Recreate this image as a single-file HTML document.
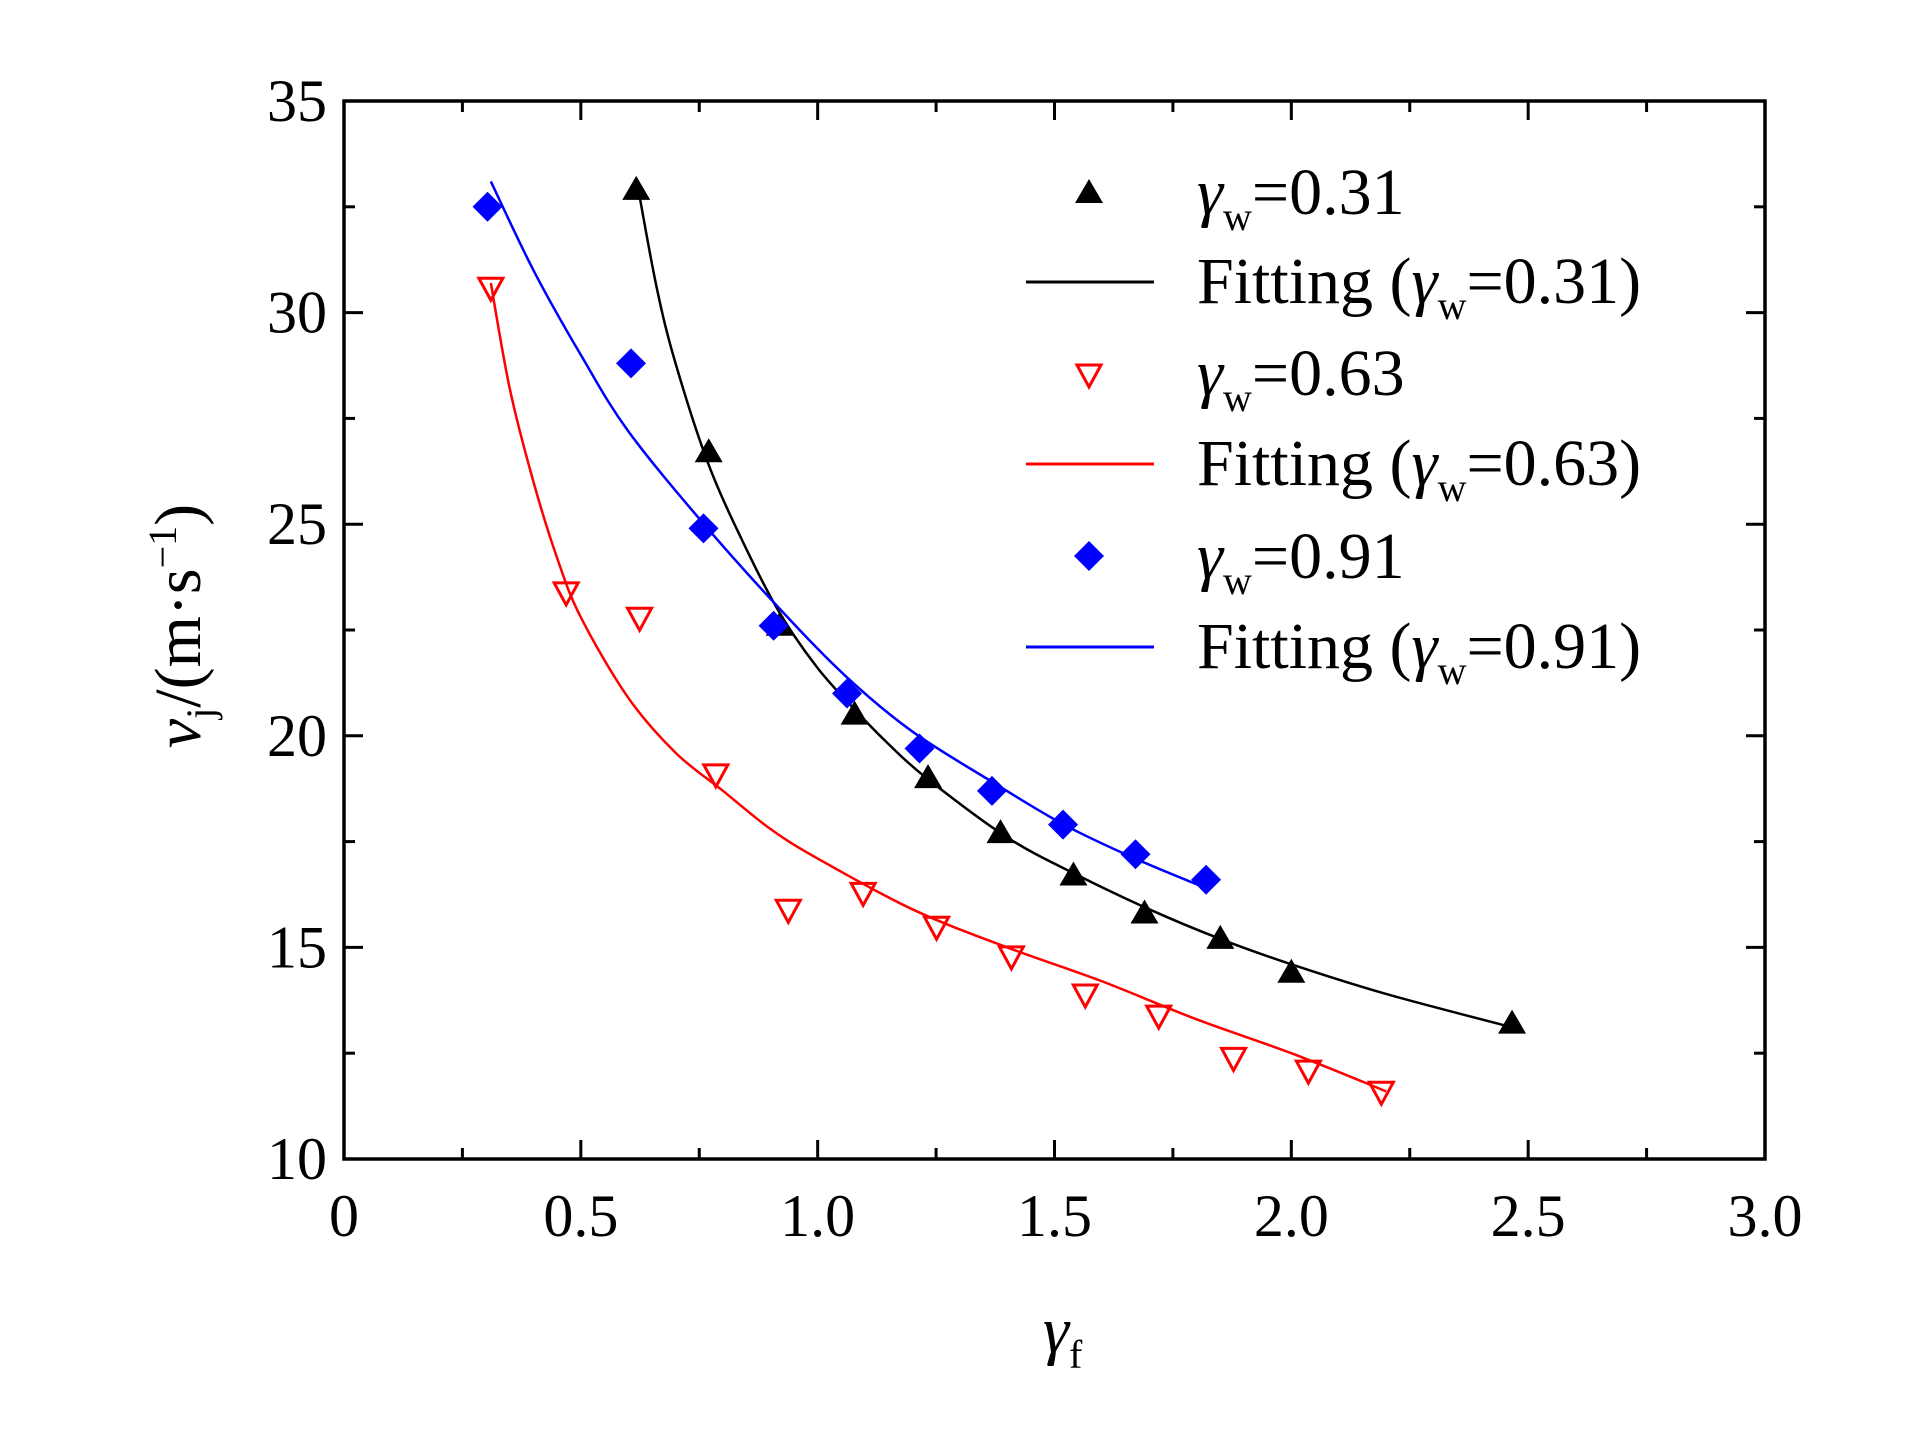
<!DOCTYPE html>
<html><head><meta charset="utf-8"><style>
body{margin:0;background:#fff}
svg text{font-family:"Liberation Serif",serif}
</style></head><body>
<svg id="chart" width="1923" height="1429" xmlns="http://www.w3.org/2000/svg"></svg>
<script>
const xTicks=[0,0.5,1.0,1.5,2.0,2.5,3.0];
const xTickLabels=["0","0.5","1.0","1.5","2.0","2.5","3.0"];
const yTicks=[10,15,20,25,30,35];
const yTickLabels=["10","15","20","25","30","35"];
const blackX=[0.617,0.77,0.92,1.078,1.233,1.386,1.54,1.69,1.85,2.0,2.466];
const blackY=[32.9,26.7,22.6,20.5,19.0,17.7,16.7,15.8,15.2,14.4,13.2];
const redX=[0.31,0.469,0.624,0.785,0.938,1.096,1.251,1.409,1.565,1.72,1.878,2.036,2.19];
const redY=[30.6,23.4,22.8,19.1,15.9,16.3,15.5,14.8,13.9,13.4,12.4,12.1,11.6];
const blueX=[0.303,0.606,0.759,0.907,1.062,1.215,1.368,1.518,1.671,1.82];
const blueY=[32.5,28.8,24.9,22.6,21.0,19.7,18.7,17.9,17.2,16.6];
const blackFitX=[0.62,0.66,0.7,0.77,0.85,0.92,1.0,1.08,1.15,1.23,1.4,1.55,1.7,1.85,2.0,2.2,2.47];
const blackFitY=[33.0,30.6,28.8,26.4,24.4,22.9,21.6,20.6,19.8,19.0,17.6,16.7,15.9,15.2,14.6,13.9,13.1];
const redFitX=[0.31,0.35,0.4,0.45,0.5,0.6,0.7,0.8,0.9,1.0,1.2,1.4,1.6,1.8,2.0,2.2];
const redFitY=[30.7,28.2,26.0,24.2,22.8,20.9,19.6,18.7,17.8,17.1,15.9,15.0,14.2,13.3,12.5,11.6];
const blueFitX=[0.31,0.4,0.5,0.6,0.76,0.92,1.06,1.2,1.37,1.52,1.67,1.82];
const blueFitY=[33.1,31.0,29.0,27.2,25.0,23.0,21.4,20.1,18.9,17.9,17.1,16.4];

const L=344,R=1765,T=101,B=1159;
const sx=v=>L+(v-0)/(3-0)*(R-L);
const sy=v=>B-(v-10)/(35-10)*(B-T);
const svg=document.getElementById('chart');
const NS='http://www.w3.org/2000/svg';
function mk(tag,attrs,parent){const e=document.createElementNS(NS,tag);for(const k in attrs)e.setAttribute(k,attrs[k]);(parent||svg).appendChild(e);return e;}

for(let v=0;v<=3.0001;v+=0.25){
  const major=Math.abs(v*2-Math.round(v*2))<1e-6;const len=major?19:11;const x=sx(v);
  let t=mk('line',{x1:x,y1:B,x2:x,y2:B-len,stroke:'#000','stroke-width':3});
  
  
  t=mk('line',{x1:x,y1:T,x2:x,y2:T+len,stroke:'#000','stroke-width':3});
  
  
}
for(let v=10;v<=35.0001;v+=2.5){
  const major=Math.abs(v/5-Math.round(v/5))<1e-6;const len=major?19:11;const y=sy(v);
  let t=mk('line',{x1:L,y1:y,x2:L+len,y2:y,stroke:'#000','stroke-width':3});
  
  
  t=mk('line',{x1:R,y1:y,x2:R-len,y2:y,stroke:'#000','stroke-width':3});
  
  
}
const frame=mk('rect',{x:L,y:T,width:R-L,height:B-T,fill:'none',stroke:'#000','stroke-width':3.5});



xTicks.forEach((v,i)=>{const t=mk('text',{x:sx(v),y:1236,'text-anchor':'middle','font-size':60});t.textContent=xTickLabels[i];

});
yTicks.forEach((v,i)=>{const t=mk('text',{x:327,y:sy(v)+20,'text-anchor':'end','font-size':60});t.textContent=yTickLabels[i];

});

function fit(xs,ys,color,name){
  const P=xs.map((x,i)=>[sx(x),sy(ys[i])]);
  let d='M'+P[0][0]+','+P[0][1];
  for(let i=0;i<P.length-1;i++){
    const p0=P[Math.max(0,i-1)],p1=P[i],p2=P[i+1],p3=P[Math.min(P.length-1,i+2)];
    const c1=[p1[0]+(p2[0]-p0[0])/6,p1[1]+(p2[1]-p0[1])/6];
    const c2=[p2[0]-(p3[0]-p1[0])/6,p2[1]-(p3[1]-p1[1])/6];
    d+=` C${c1[0]},${c1[1]} ${c2[0]},${c2[1]} ${p2[0]},${p2[1]}`;
  }
  const p=mk('path',{d:d,fill:'none',stroke:color,'stroke-width':2.5});
  
  }
fit(blackFitX,blackFitY,'#000','fit-line-0.31');
fit(redFitX,redFitY,'#f00','fit-line-0.63');
fit(blueFitX,blueFitY,'#00f','fit-line-0.91');

function tri(x,y){return mk('path',{d:`M${x},${y-14} L${x+14},${y+10} L${x-14},${y+10} Z`,fill:'#000'});}
function itri(x,y){return mk('path',{d:`M${x-12},${y-9} L${x+12},${y-9} L${x},${y+13} Z`,fill:'none',stroke:'#f00','stroke-width':3});}
function dia(x,y){return mk('path',{d:`M${x},${y-15} L${x+15},${y} L${x},${y+15} L${x-15},${y} Z`,fill:'#00f'});}
blackX.forEach((v,i)=>{const m=tri(sx(v),sy(blackY[i]));

});
redX.forEach((v,i)=>{const m=itri(sx(v),sy(redY[i]));

});
blueX.forEach((v,i)=>{const m=dia(sx(v),sy(blueY[i]));

});
</script>
<svg width="1923" height="1429" style="position:absolute;left:0;top:0" xmlns="http://www.w3.org/2000/svg" font-family="Liberation Serif, serif" font-size="66">
<path d="M1089,179 L1103,203 L1075,203 Z" fill="#000"/>
<text x="1197" y="214"><tspan font-style="italic">γ</tspan><tspan font-size="40" dy="16">w</tspan><tspan dy="-16">=0.31</tspan></text>
<line x1="1026" y1="282" x2="1154" y2="282" stroke="#000" stroke-width="3"/>
<text x="1197" y="303">Fitting (<tspan font-style="italic">γ</tspan><tspan font-size="40" dy="16">w</tspan><tspan dy="-16">=0.31)</tspan></text>
<path d="M1077,365 L1101,365 L1089,387 Z" fill="none" stroke="#f00" stroke-width="3"/>
<text x="1197" y="395"><tspan font-style="italic">γ</tspan><tspan font-size="40" dy="16">w</tspan><tspan dy="-16">=0.63</tspan></text>
<line x1="1026" y1="464" x2="1154" y2="464" stroke="#f00" stroke-width="3"/>
<text x="1197" y="485">Fitting (<tspan font-style="italic">γ</tspan><tspan font-size="40" dy="16">w</tspan><tspan dy="-16">=0.63)</tspan></text>
<path d="M1089,541 L1104,556 L1089,571 L1074,556 Z" fill="#00f"/>
<text x="1197" y="578"><tspan font-style="italic">γ</tspan><tspan font-size="40" dy="16">w</tspan><tspan dy="-16">=0.91</tspan></text>
<line x1="1026" y1="647" x2="1154" y2="647" stroke="#00f" stroke-width="3"/>
<text x="1197" y="668">Fitting (<tspan font-style="italic">γ</tspan><tspan font-size="40" dy="16">w</tspan><tspan dy="-16">=0.91)</tspan></text>
<text x="1043" y="1352"><tspan font-style="italic">γ</tspan><tspan font-size="40" dy="16">f</tspan></text>
<text transform="translate(200,626) rotate(-90)" text-anchor="middle"><tspan font-style="italic">v</tspan><tspan font-size="40" dy="14">j</tspan><tspan dy="-14">/(m·s</tspan><tspan font-size="40" dy="-24">−1</tspan><tspan dy="24">)</tspan></text>
</svg>
</body></html>
